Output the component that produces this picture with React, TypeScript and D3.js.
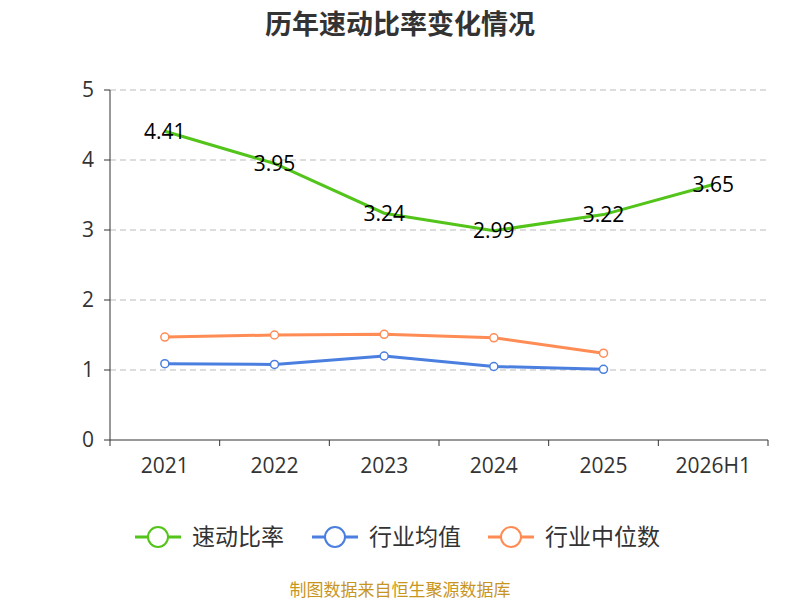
import * as d3 from "d3"

const categories = ["2021", "2022", "2023", "2024", "2025", "2026H1"]
const quickRatio = [4.41, 3.95, 3.24, 2.99, 3.22, 3.65]
const industryAvg = [1.09, 1.08, 1.2, 1.05, 1.01]
const industryMedian = [1.47, 1.5, 1.51, 1.46, 1.24]
const yTicks = [0, 1, 2, 3, 4, 5]

const font = "'Open Sans', 'Noto Sans CJK SC', sans-serif"

export default function App() {
  const left = 110, right = 768, top = 90, bottom = 440
  const x = d3.scaleBand().domain(categories).range([left, right])
  const cx = (i: number) => (x(categories[i]) || 0) + x.bandwidth() / 2
  const y = d3.scaleLinear().domain([0, 5]).range([bottom, top])
  const line = d3.line<number>().x((_, i) => cx(i)).y((d) => y(d))

  const series = [
    { name: "速动比率", data: quickRatio, color: "#52c41a", markers: false },
    { name: "行业均值", data: industryAvg, color: "#4a7fe0", markers: true },
    { name: "行业中位数", data: industryMedian, color: "#ff8c55", markers: true },
  ]
  const legendX = [135, 312, 488]

  return (
    <svg width={800} height={600} style={{ position: "absolute", left: 0, top: 0, fontFamily: font }}>
      <rect width={800} height={600} fill="#fff" />
      <text x={400} y={34} textAnchor="middle" fontSize={27} fontWeight="bold" fill="#333">历年速动比率变化情况</text>
      {yTicks.map((t) => (
        <g key={t}>
          {t > 0 && <line x1={left} x2={right} y1={y(t)} y2={y(t)} stroke="#bbb" strokeDasharray="6,4" />}
          <line x1={left - 6} x2={left} y1={y(t)} y2={y(t)} stroke="#333" />
          <text x={left - 16} y={y(t)} dy="0.35em" textAnchor="end" fontSize={21} fill="#333">{t}</text>
        </g>
      ))}
      <line x1={left} x2={left} y1={top} y2={bottom} stroke="#333" />
      <line x1={left} x2={right} y1={bottom} y2={bottom} stroke="#333" />
      {categories.map((c, i) => (
        <g key={c}>
          <line x1={x(c)!} x2={x(c)!} y1={bottom} y2={bottom + 6} stroke="#333" />
          <text x={cx(i)} y={bottom + 33} textAnchor="middle" fontSize={21} fill="#333">{c}</text>
        </g>
      ))}
      <line x1={right} x2={right} y1={bottom} y2={bottom + 6} stroke="#333" />
      {series.map((s) => (
        <g key={s.name}>
          <path d={line(s.data) || ""} fill="none" stroke={s.color} strokeWidth={3} />
          {s.markers && s.data.map((d, i) => (
            <circle key={i} cx={cx(i)} cy={y(d)} r={4} fill="#fff" stroke={s.color} strokeWidth={1.5} />
          ))}
        </g>
      ))}
      {quickRatio.map((d, i) => (
        <text key={i} x={cx(i)} y={y(d)} dy="0.35em" textAnchor="middle" fontSize={21} fill="#000">{d.toFixed(2)}</text>
      ))}
      {series.map((s, k) => (
        <g key={s.name} transform={`translate(${legendX[k]},537)`}>
          <line x1={0} x2={46} y1={0} y2={0} stroke={s.color} strokeWidth={3} />
          <circle cx={23} cy={0} r={10} fill="#fff" stroke={s.color} strokeWidth={2} />
          <text x={57} y={0} dy="0.35em" fontSize={23} fill="#333">{s.name}</text>
        </g>
      ))}
      <text x={400} y={596} textAnchor="middle" fontSize={17} fill="#c8961e">制图数据来自恒生聚源数据库</text>
    </svg>
  )
}
